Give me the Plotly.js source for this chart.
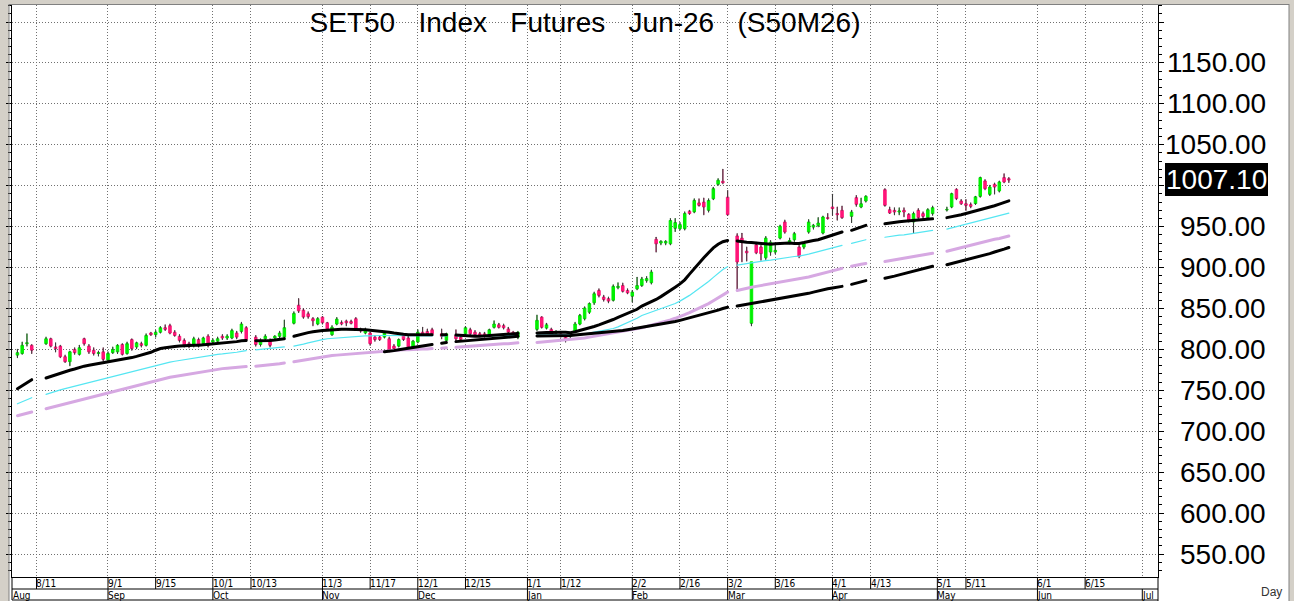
<!DOCTYPE html>
<html><head><meta charset="utf-8">
<script src="https://cdn.plot.ly/plotly-3.0.1.min.js"></script>
<style>html,body{margin:0;padding:0;background:#fff;overflow:hidden}#chart{width:1294px;height:601px}
#chart .scatterlayer path.js-line{stroke-linecap:round}</style>
</head><body><div id="chart"></div>
<script>
// ---------------- DATA ----------------
const titleText = 'SET50\u00a0\u00a0\u00a0Index\u00a0\u00a0\u00a0Futures\u00a0\u00a0\u00a0Jun-26\u00a0\u00a0\u00a0(S50M26)';
const firstDay = '2025-08-05';
const lastDay = '2026-05-22';
const holidays = ['2025-08-11','2025-08-12','2025-10-13','2025-10-23','2025-12-05','2025-12-10',
  '2025-12-31','2026-01-01','2026-01-02','2026-03-03','2026-04-06','2026-04-13','2026-04-14',
  '2026-04-15','2026-05-01','2026-05-04'];

const open = [
 793,795,807,805, 807,813,803, 804,791,785,800,794, 813,804,799,795,797,
 787,796,797,806,795, 812,803,807,805,820, 818,821,826.5,829,821, 816,811,807,805,812,
 807,816,809,810,816, 814,814,820,822,826.5, 815,806,813,811, 814,816,815,832, 854,848,843.5,837.5,831,
 839.5,832.5,818,831,833, 834.5,834,837.5,825,820, 820,815,815,815,813, 804,804,817,814,803,
 809,821,822,824, 819,811,817,815, 819,824,821,819,819, 818,827,830,829,825, 821,815,
 824.5,839.5,826,824.5,821, 819,815,816,822,831, 837.5,845.5,857,872,864, 862,860,875.5,878,872,
 865,874,878,884,881.5, 934.5,930,930,929,948, 947.5,947.5,968.7,968,979, 980,970,984,1001.7,1005.4,
 986,938.6,936,920, 832,928,925,912,919, 919,936,955.7,931,934, 925,925,943.4,949.4,951.2,
 942.2,961,974,966,969.9, 962.6,985.4,974,981.3, 995.2,970.7, 969.9,967.9,969.9,965,955.7, 969.9,965.9,961,965.9,
 970.3,974,995.6,981.3, 978,976.9,978.2,987,1005.8, 989.5,1001.7,993.6,1009.9,1008.5];
const high = [
 800,809,819,806, 815,814,808, 805,793,798,802,805, 814,806,802,798,802,
 797,803,806,807,809, 813,809,809,819,821, 823,828,830,831,823, 818,813,809,815,814,
 815,818,813,815,818, 818,825,822,833,828, 817,813,818,813, 817,822,836,846, 862,850,846,839,839,
 840,833,829,839,835, 836,836,839,826,826, 821,817,817,822,815, 806,813,819,816,811,
 824,827,825,826, 825,820,824,817, 828,826,823,821,821, 825,835,832,831,827, 822,822,
 842,840,832,826,823, 821,817,819,833,843, 852,857,870,874,866, 864,879,881.5,881,874,
 872,888,888,889,897, 937,933,933,960,960, 955,968,970,984,984, 985,984,998,1008.6,1020,
 994,941.4,942,925, 907,931,927,938,933, 928,952,958,936,943, 927,931,958.5,953,961,
 963,966,989.5,974,975, 970,988,985,988, 996.4,974, 973,973,973,966,967.9, 972,968,972,975,
 974,991,996.4,983, 983,979,987.2,1010.7,1007.4, 1000.5,1003.3,1005.8,1014.7,1010];
const low = [
 790,794,804,795, 806,803,797, 790,784,780,794,793, 805,795,793,792,786,
 786,795,795,793,794, 799,801,803,804,817, 815,820,823,819,816, 809,803,802,803,803,
 805,803,806,808,812, 812,813,813,820,810, 804,804,811,803, 812,814,814,831, 845,838,838,829,830,
 831,824,817,830,830, 829,831,824,821,819, 805,810,811,814,797, 799,803,811,802,802,
 808,817,818,818, 813,810,809,810, 818,818,817,816,815, 817,826,826,825,820, 816,813,
 823,826,825,820,819, 815,809,814,821,830, 836,844,855,864,859, 857,859,874,870,868,
 858,873,877,882,880, 919,928,928,928,944, 946,946,965,967,975, 964.6,968,983,1000.5,1002.5,
 963.8,872,907,908, 829,917,909,910,915, 917,935,942,929,932, 912,923,942,947,950,
 941,959,963.8,958,960, 955,975,973,980, 975,966, 964.6,964.6,962,955.7,942, 960,960,959.5,964,
 969,973,983,977, 969.9,973,977,986,995.2, 988,990,992.4,1003.7,1004];
const close = [
 796,805,808,799, 813,804,801, 791,785,797,796,802, 807,797,795,796,788,
 795,800,805,794,807, 801,808,805,817,818, 821,826.5,824.5,820,817, 811,805,804,813,805,
 814,805,811,813,814, 816,823,815,831,812, 806,811,816,805, 816,820,826.5,844, 847,839.5,840,835,837.5,
 832.5,825,827,837,831, 832.5,832,825,822.5,824, 807,812,812,820,799, 801,812,812,803,810,
 821,818,819,819, 816,819,813,812, 826.5,819,818,817.5,816, 824,831,827,826.5,821, 817,821,
 835.5,827,830,822,821.5, 817,811,818,831,841.5, 850.5,856,868,866,861, 859,877,877,871,869,
 870,878,886,886.5,894.5, 929,932,932,957.5,955, 952.5,966,966,982,976, 974,982,996.4,1006.6,1003.7,
 964.6,906.8,931,918, 907,918,917,936,931, 921,950.4,943.4,933,941.4, 913.7,929,955.7,951.6,954.4,
 961.8,960,972,964.6,961, 967.9,977.3,978,987, 976,966.7, 967.9,969.1,967.9,956.9,965.9, 961,962.6,970.7,973.2,
 971,990.3,984.2,978, 976,974.8,986.4,1009.9,996.4, 998.4,998.4,1004.6,1004.6,1007.1];

// moving averages, one value per trading day
const maBlack = [
 752,756,759.5,763, 765,767,769, 771,773,774.5,776,778, 779.5,780.5,781.5,782.5,783.5,
 784.5,785.5,786.5,787.5,788.5, 790,791.5,793,794.5,796.5, 799,801,802,803,803.5, 804,804.5,804.5,805,805,
 805.5,806,806.5,807,807.5, 808,809,809.5,810.5,811, 810.5,810.5,811,811, 811.5,812,813,816, 817.5,819.5,820.5,821.5,822.5,
 823,823.5,824,824,824.5, 824.5,824.5,824.5,824.5,824, 823.5,823,822.5,821.5,821, 820,819,818.5,818,818,
 818,818,818,818, 818,818,817.5,817, 816.5,816,816,816,816.5, 817,817.5,818,818.5,819, 819,819.5,
 820,820.5,820.5,820.5,821, 821,821,820.5,821.5,823, 824.5,826,828,830,832, 834,836.5,839,841.5,844,
 846.5,849,853,855.5,858, 861,864.5,868,872,876, 880,885,892,899,905.5, 912,918,924,928.5,931.5,
 933,932.5,931.5,931, 930.5,930,929.5,929,928.5, 929,929.5,930,930,929.5, 929.5,930.5,932,933,934,
 936,938,940,942,943.5, 945.5,947.5,949.5,951.5, 953.5,954.5, 955.5,956,956.5,957,957.5, 958,958.5,959,959.5,
 961,962,963.5,964.5, 966,967.5,969,971,972.5, 974,975.5,977.5,979.5,981.5];
const maCyan = [
 733.5,736,738.5,741, 745,747,749, 750.5,752,753.5,755,756.5, 758,759.5,761,762.5,764,
 765.5,767,768.5,770,771, 772.5,774,775.5,777,778.5, 780,781.5,783,784.5,785.5, 786.5,787.5,788.5,789.5,790.5,
 791.5,792.5,793.5,794,794.5, 795,796,796.5,797.5,798.5, 799.5,800,800.5,801, 801.5,802,803,804, 805,806.5,808,809.5,811,
 812,813,813.5,814,814.5, 815,815.5,816,816,816.5, 816.5,817,817,817,817, 816.5,816.5,816.5,816.5,816.5,
 816.5,816.5,816.5,816.5, 816.5,816.5,816.5,816.5, 816.5,816.5,816.5,816.5,816.5, 816.5,817,817,817,817, 817,817,
 817.5,817.5,817.5,817.5,817.5, 817.5,817.5,817.5,818,818.5, 819,820,821,822,823, 824,825.5,827.5,830,832.5,
 835,838,841.5,843.5,845.5, 847.5,849.5,851.5,853.5,856, 859,862,866,870,874, 878,883,888,893,897.5,
 901,903,904,905, 906,906.5,907.5,908.5,909, 910,910.5,911.5,912.5,913.5, 914,915,916.5,918,919.5,
 921,922.5,924,925.5,927, 929.5,931,932.5,934, 937,938, 939,939.5,940,941,941.5, 942.5,943.5,944.5,945.5,
 947,948.5,950,951.5, 953,954.5,956,957.5,959, 960.5,962,963.5,965,966.5];
const maViolet = [
 719,720.5,722,723.5, 727.5,729,730.5, 732,733.5,735,736.5,738, 739.5,741,742.5,744,745.5,
 747,748.5,750,751.5,753, 754.5,756,757.5,759,760.5, 762,763.5,765,766,767, 768,769,770,771,772,
 773,774,775,776,776.5, 777,777.5,778,778.5,779, 779.5,780,780.5,781, 781.5,782.5,783.5,785, 786,787,788,789,790,
 791,792,792.5,793,793.5, 794,794.5,795,795.5,796, 796.5,797,797.5,798,798.5, 799,799,799.5,799.5,800,
 800,800.5,800.5,801, 801.5,802,802.5,803, 803.5,804,804.5,805,805, 805.5,806,806.5,807,807, 807.5,808,
 808.5,809,809.5,810,810.5, 811,811.5,812,812.5,813, 814,815,816,817,818, 819,820,821,822,823,
 824,825,826.5,828,829.5, 831,832.5,834,836,838, 840,842.5,845,847.5,850, 853,856,859.5,863,866.5,
 870,872,873.5,875, 876,877,878,879,880, 881,882,883,884,885, 886,887,888.5,890,891.5,
 893,894.5,896,897.5,899, 901.5,903,904,905, 907.5,908.5, 909.5,910.5,911.5,912.5,913.5, 914.5,915.5,916.5,917.5,
 920,921.5,923,924.5, 926,927.5,929,930.5,931.5, 933,934.5,935.5,937,938.5];
const maLongStartIndex = 73; // first trading day on which the long average is drawn (Nov 20)
const maLong = [
 797,797.5, 798.5,799.5,800.5,801.5,802.5,
 803,804,805,806, 807.5,808.5,809.5,810, 810.5,811,811.5,812,812.5, 813,813.5,814,814.5,815, 815.5,816,
 816.5,816.5,816.5,817,817, 817,817,817,817.5,818, 818.5,819,819.5,820,820.5, 821,821.5,822,823,824,
 825,825.5,826.5,827.5,828.5, 829.5,830.5,831.5,832.5,834, 835.5,837,838.5,840,841.5, 843,844.5,846,848,850,
 851.5,853,854,855, 856,857,858,859,860, 861,862,863,864,865, 866.5,867.5,868.5,870,871.5,
 873,874,875,876,877, 879.5,881,882.5,884, 887,888, 889.5,891,892.5,894,895.5, 897,898.5,900,901.5,
 903.5,905,906,907.5, 909,910.5,912.5,914,915.5, 917,919,920.5,922.5,924.5];

const lastPrice = 1007.10;
const gridLevels = [550,600,650,700,750,800,850,900,950,1000,1050,1100,1150,1200];
const labelLevels = [550,600,650,700,750,800,850,900,950,1050,1100,1150];
const dateTickDays = ['2025-08-11','2025-09-01','2025-09-15','2025-10-01','2025-10-13','2025-11-03','2025-11-17',
  '2025-12-01','2025-12-15','2026-01-01','2026-01-12','2026-02-02','2026-02-16','2026-03-02','2026-03-16',
  '2026-04-01','2026-04-13','2026-05-01','2026-05-11','2026-06-01','2026-06-15'];
const dateTickText = ['8/11','9/1','9/15','10/1','10/13','11/3','11/17','12/1','12/15','1/1','1/12','2/2','2/16',
  '3/2','3/16','4/1','4/13','5/1','5/11','6/1','6/15'];
const monthDays = ['2025-09-01','2025-10-01','2025-11-03','2025-12-01','2026-01-01','2026-02-02','2026-03-02',
  '2026-04-01','2026-05-01','2026-06-01','2026-07-01'];
const monthText = ['Sep','Oct','Nov','Dec','Jan','Feb','Mar','Apr','May','Jun','Jul'];
const firstMonthText = 'Aug';

// ---------------- BUILD ----------------
const W = 1294, H = 601, L = 12, R = 136, T = 5, B = 24;
const PW = W - L - R, PH = H - T - B;
const px = X => (X - L) / PW;          // pixel x -> paper
const py = Y => (H - B - Y) / PH;      // pixel y -> paper
const noon = d => d + ' 12:00';

const hol = new Set(holidays);
const allDays = [];
for (let d = new Date(firstDay + 'T00:00:00Z'); d <= new Date(lastDay + 'T00:00:00Z'); d.setUTCDate(d.getUTCDate() + 1)) {
  const wd = d.getUTCDay();
  if (wd === 0 || wd === 6) continue;
  allDays.push(d.toISOString().slice(0, 10));
}
const tradeDays = allDays.filter(d => !hol.has(d));
const n = tradeDays.length;
[open, high, low, close, maBlack, maCyan, maViolet].forEach((a, i) => { if (a.length !== n) console.error('len', i, a.length, n); });
if (maLongStartIndex + maLong.length !== n) console.error('maLong len', maLong.length);

const xs = tradeDays.map(noon);
const spread = vals => { let k = 0; return allDays.map(d => hol.has(d) ? null : vals[k++]); };
const maLongFull = tradeDays.map((d, i) => i < maLongStartIndex ? null : maLong[i - maLongStartIndex]);

const wx = [], wy = [];
for (let i = 0; i < n; i++) {
  const top = Math.max(open[i], close[i]), bot = Math.min(open[i], close[i]);
  wx.push(xs[i], xs[i], null, xs[i], xs[i], null);
  wy.push(high[i], top, null, bot, low[i], null);
}

const GREEN = '#00f000', PINK = '#ff1578';
const traces = [
  {type: 'candlestick', x: xs, open, high, low, close, hoverinfo: 'skip',
   increasing: {fillcolor: GREEN, line: {color: GREEN, width: 1}},
   decreasing: {fillcolor: PINK, line: {color: PINK, width: 1}}, showlegend: false},
  {type: 'scatter', mode: 'lines', x: wx, y: wy, line: {color: '#3c3c3c', width: 1.1}, hoverinfo: 'skip', showlegend: false},
  {type: 'scatter', mode: 'lines', x: allDays.map(noon), y: spread(maViolet), line: {color: '#d6a8e2', width: 3}, connectgaps: false, showlegend: false},
  {type: 'scatter', mode: 'lines', x: allDays.map(noon), y: spread(maCyan), line: {color: '#55e6f2', width: 1.2}, connectgaps: false, showlegend: false},
  {type: 'scatter', mode: 'lines', x: allDays.map(noon), y: spread(maLongFull), line: {color: '#000', width: 3}, connectgaps: false, showlegend: false},
  {type: 'scatter', mode: 'lines', x: allDays.map(noon), y: spread(maBlack), line: {color: '#000', width: 3}, connectgaps: false, showlegend: false}
];

const yRow1 = py(589), yRow2 = py(600);
const shapes = [];
shapes.push({type: 'line', xref: 'paper', yref: 'paper', x0: 0, x1: 1, y0: yRow1, y1: yRow1, line: {color: '#000', width: 1}});
shapes.push({type: 'line', xref: 'paper', yref: 'paper', x0: 0, x1: 1, y0: yRow2, y1: yRow2, line: {color: '#000', width: 1}});
shapes.push({type: 'line', xref: 'paper', yref: 'paper', x0: 0, x1: 0, y0: 0, y1: yRow2, line: {color: '#000', width: 1}});
shapes.push({type: 'line', xref: 'paper', yref: 'paper', x0: 1, x1: 1, y0: 0, y1: py(601), line: {color: '#000', width: 1}});
dateTickDays.forEach(d => shapes.push({type: 'line', xref: 'x', yref: 'paper', x0: noon(d), x1: noon(d), y0: 0, y1: yRow1, line: {color: '#000', width: 1}}));
monthDays.forEach(d => shapes.push({type: 'line', xref: 'x', yref: 'paper', x0: noon(d), x1: noon(d), y0: yRow1, y1: yRow2, line: {color: '#000', width: 1}}));
shapes.push({type: 'rect', xref: 'paper', yref: 'paper', x0: px(0), x1: px(9), y0: py(601), y1: py(0), fillcolor: '#d4d0c8', line: {width: 0}, layer: 'below'});
shapes.push({type: 'line', xref: 'paper', yref: 'paper', x0: px(9), x1: px(9), y0: py(601), y1: py(4), line: {color: '#808080', width: 1}});
shapes.push({type: 'rect', xref: 'paper', yref: 'paper', x0: px(0), x1: px(1294), y0: py(4), y1: py(0), fillcolor: '#d4d0c8', line: {width: 0}});
shapes.push({type: 'line', xref: 'paper', yref: 'paper', x0: px(9), x1: px(1289), y0: py(4.5), y1: py(4.5), line: {color: '#808080', width: 1}});
shapes.push({type: 'rect', xref: 'paper', yref: 'paper', x0: px(1289), x1: px(1294), y0: py(601), y1: py(0), fillcolor: '#d4d0c8', line: {width: 0}});
shapes.push({type: 'line', xref: 'paper', yref: 'paper', x0: px(1289), x1: px(1289), y0: py(601), y1: py(4), line: {color: '#808080', width: 1}});

const smallFont = {family: 'Liberation Sans Narrow, DejaVu Sans Condensed, Liberation Sans, sans-serif', size: 10, color: '#000'};
const bigFont = {family: 'Liberation Sans, Arial, sans-serif', size: 28, color: '#000'};
const annotations = [];
dateTickDays.forEach((d, i) => annotations.push({xref: 'x', yref: 'paper', x: noon(d), y: py(583.5), text: dateTickText[i],
  xanchor: 'left', yanchor: 'middle', showarrow: false, font: smallFont, borderpad: 0, borderwidth: 0}));
monthDays.forEach((d, i) => annotations.push({xref: 'x', yref: 'paper', x: noon(d), y: py(595), text: monthText[i],
  xanchor: 'left', yanchor: 'middle', showarrow: false, font: smallFont, borderpad: 0, borderwidth: 0}));
annotations.push({xref: 'paper', yref: 'paper', x: px(13), y: py(595), text: firstMonthText, xanchor: 'left', yanchor: 'middle',
  showarrow: false, font: smallFont, borderpad: 0, borderwidth: 0});
labelLevels.forEach(v => annotations.push({xref: 'paper', yref: 'y', x: px(1266), y: v, text: v.toFixed(2),
  xanchor: 'right', yanchor: 'middle', showarrow: false, font: bigFont, borderpad: 0, borderwidth: 0}));
annotations.push({xref: 'paper', yref: 'y', x: px(1268), y: lastPrice, text: lastPrice.toFixed(2), xanchor: 'right', yanchor: 'middle',
  showarrow: false, bgcolor: '#000', font: {family: bigFont.family, size: 28, color: '#fff'}, borderpad: 1, borderwidth: 0});
annotations.push({xref: 'paper', yref: 'paper', x: px(1284), y: py(591.5), text: 'Day', xanchor: 'right', yanchor: 'middle',
  showarrow: false, font: {family: 'Liberation Sans, Arial, sans-serif', size: 12, color: '#333'}});

const layout = {
  width: W, height: H, margin: {l: L, r: R, t: T, b: B, autoexpand: false},
  paper_bgcolor: '#fff', plot_bgcolor: '#fff', showlegend: false, boxgap: 0.25,
  title: {text: titleText, font: bigFont, x: 0.5, xref: 'paper', xanchor: 'center', y: 1 - 22 / H, yref: 'container', yanchor: 'middle'},
  xaxis: {type: 'date', range: ['2025-08-04 08:40', '2026-07-06 19:00'], rangebreaks: [{bounds: ['sat', 'mon']}],
    rangeslider: {visible: false}, tickmode: 'array', tickvals: dateTickDays.map(noon).concat([noon('2026-07-01')]),
    showticklabels: false, ticks: '', showgrid: true, gridcolor: '#707070', griddash: '1px,2px', gridwidth: 1,
    showline: true, linecolor: '#000', linewidth: 1, mirror: true, zeroline: false, fixedrange: true},
  yaxis: {range: [521.9, 1220.8], side: 'right', tickmode: 'array', tickvals: gridLevels, showticklabels: false,
    ticks: 'outside', ticklen: 5, tickcolor: '#000',
    minor: {dtick: 10, tick0: 0, ticks: 'outside', ticklen: 3, tickcolor: '#000', showgrid: false},
    showgrid: true, gridcolor: '#707070', griddash: '1px,2px', gridwidth: 1,
    showline: true, linecolor: '#000', linewidth: 1, mirror: 'ticks', zeroline: false, fixedrange: true, automargin: false},
  shapes, annotations
};

Plotly.newPlot('chart', traces, layout, {staticPlot: true, displayModeBar: false});
</script>
</body></html>
